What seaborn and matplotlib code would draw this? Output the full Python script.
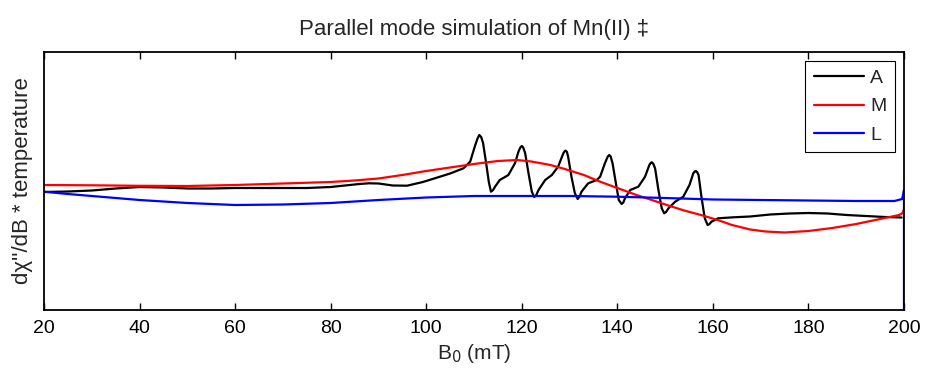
import matplotlib
matplotlib.use("Agg")
import matplotlib.pyplot as plt
import seaborn as sns
import pandas as pd

# Field (mT) and signal (arbitrary units; values are pixel rows, converted below)
a_field = [20, 25, 30, 35, 40, 45, 50, 55, 60, 65, 70, 75, 80, 83, 86, 88, 90, 93, 96, 99.3, 102, 105, 107.8,
           109.2, 110.2, 110.7, 111.1, 111.5, 111.9, 112.65, 113.1, 113.55, 114.0, 114.4, 115.4, 117.2, 118.6,
           119.3, 119.7, 120.0, 120.3, 120.7, 121.4, 122.1, 122.6, 123.0, 123.5, 124.9, 126.3, 127.6, 128.7,
           129.0, 129.2, 129.45, 129.7, 130.4, 131.1, 131.7, 132.1, 132.5, 133.9, 135.7, 136.4, 137.4, 138.0,
           138.3, 138.6, 139.0, 139.7, 140.3, 140.9, 141.25, 141.6, 142.7, 144.4, 145.8, 146.7, 147.0, 147.2,
           147.5, 147.9, 148.6, 149.3, 149.8, 150.2, 150.7, 152.1, 153.8, 155.1, 155.9, 156.2, 156.4, 156.7,
           157.0, 157.6, 158.3, 158.9, 159.3, 159.7, 161.1, 164.3, 167.8, 172, 176, 180, 184, 188, 192, 196,
           199.5]
a_pix = [192, 191.5, 190.5, 188.5, 187, 187.5, 188.5, 188.5, 188, 188, 188, 188, 187, 185.5, 184, 183.3,
         183.5, 185.5, 185.7, 182, 178, 173.5, 168.3, 161.7, 146, 139, 135, 137, 143, 166.7, 182, 191.7, 190,
         186.7, 180, 175, 163, 151.7, 147.5, 146, 147.5, 153, 173, 191.7, 197, 195.5, 190, 180, 175, 166.7,
         153.3, 151, 150.7, 152, 156.7, 176.7, 193, 199, 196.5, 191.7, 183.3, 180, 176.7, 163.3, 156.5, 155,
         156.5, 163.3, 183.3, 200, 204, 202.5, 198.3, 190, 186.7, 176.7, 165, 162.8, 162.3, 163.5, 168.3, 190,
         208.3, 213.3, 212, 208.3, 201.7, 196.7, 185, 173.3, 171.5, 171, 172, 175, 196.7, 218.3, 225, 224,
         221.7, 218.3, 217.3, 216.5, 214.5, 213.5, 213, 213.5, 215, 216, 217, 217.5]

m_field = [20, 30, 40, 50, 60, 70, 80, 85, 90, 95, 100, 105, 110, 115, 119, 122, 126, 129, 133, 136.4, 140,
           144, 147.2, 151, 154, 157.5, 161, 164, 167.8, 171, 175, 180, 185, 190, 195, 199, 199.7, 200]
m_pix = [185, 185.3, 185.8, 186, 185, 183.5, 182, 180.5, 178.5, 175, 171, 167.5, 164, 161, 160, 161.5,
         165, 169, 175, 181.7, 188, 195, 200, 206, 210.5, 215, 220, 225, 229.5, 231.5, 232.5, 231, 228, 224,
         219, 215, 213, 209]

l_field = [20, 25, 30, 40, 50, 60, 70, 80, 90, 100, 110, 120, 130, 140, 150, 160, 170, 180, 190, 198, 199.6,
           199.85, 200, 200]
l_pix = [191.7, 194, 196, 200, 203, 205, 204.5, 203, 200, 197.5, 196, 196, 196, 196.7, 198, 199.5, 200,
         200.5, 201, 201, 199, 194, 190, 330]

series_names = ["A", "M", "L"]
colors = ["#000000", "#ff0000", "#0000ff"]
x_ticks = [20, 40, 60, 80, 100, 120, 140, 160, 180, 200]

rows = []
for name, xs, ps in zip(series_names, [a_field, m_field, l_field], [a_pix, m_pix, l_pix]):
    for x, p in zip(xs, ps):
        rows.append({"B": x, "val": (181 - p), "series": name})
df = pd.DataFrame(rows)

sns.set_style("white")
plt.rcParams["font.family"] = ["Liberation Sans", "DejaVu Sans"]

fig = plt.figure(figsize=(9.25, 3.73), dpi=100)
ax = fig.add_axes([44 / 925, 63 / 373, 860 / 925, 258 / 373])

sns.lineplot(data=df, x="B", y="val", hue="series", palette=dict(zip(series_names, colors)),
             sort=False, estimator=None, linewidth=1.6, ax=ax)

ax.set_xlim(20, 200)
ax.set_ylim(-129, 129)
ax.set_xticks(x_ticks)
ax.set_xticklabels([str(t) for t in x_ticks], fontsize=14)
ax.set_yticks([])
ax.tick_params(axis="x", direction="in", length=5, width=1, top=True, bottom=True, pad=7, colors="black")
for s in ax.spines.values():
    s.set_visible(True)
    s.set_color("black")
    s.set_linewidth(1.3)

ax.set_xlabel("B$_0$ (mT)", fontsize=15, labelpad=4)
ax.set_ylabel("d\u03c7''/dB * temperature", fontsize=16, labelpad=8)
ax.set_title("Parallel mode simulation of Mn(II) \u2021", fontsize=16, pad=12)

leg = ax.legend(loc="upper right", fontsize=14, handlelength=2.6, frameon=True, fancybox=False,
                framealpha=1, edgecolor="black", borderaxespad=0.45, labelspacing=0.55,
                handletextpad=0.3, borderpad=0.45)
leg.get_frame().set_linewidth(0.8)
for line in leg.get_lines():
    line.set_linewidth(1.6)

fig.savefig("out.png", dpi=100)
